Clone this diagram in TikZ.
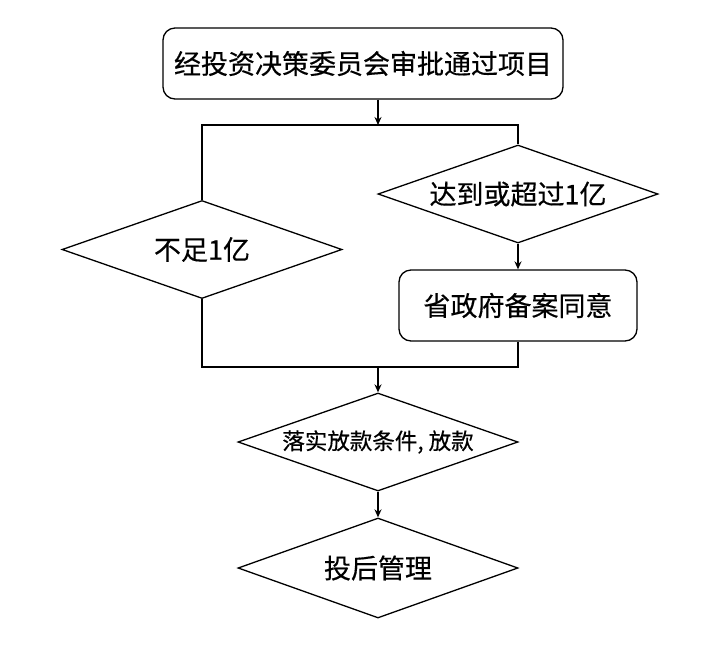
\documentclass[tikz,border=0pt]{standalone}
\usepackage{fontspec}
\setmainfont{Noto Sans CJK SC}[FakeBold=0.4]
\usetikzlibrary{shapes.geometric,arrows.meta}
\tikzset{
  rbox/.style={draw, line width=1.3pt, rounded corners=12pt, inner sep=0pt, font=\fontsize{27}{30}\selectfont},
  dia/.style={draw, diamond, line width=1.3pt, inner sep=0pt, minimum width=280pt, minimum height=98pt, aspect=2.86, font=\fontsize{27}{30}\selectfont},
  ln/.style={line width=1.3pt},
  arr/.style={line width=1.3pt, -{Stealth[length=8pt,width=7pt]}}
}
\begin{document}
\begin{tikzpicture}[x=1pt,y=-1pt]
\useasboundingbox (0,0) rectangle (705,649);
\node[rbox, minimum width=400pt, minimum height=71pt] (top) at (363,63.5) {经投资决策委员会审批通过项目};
\coordinate (j1) at (378,125);
\coordinate (jl) at (202,125);
\coordinate (jr) at (518,125);
\node[dia] (d1) at (202,249.5) {不足1亿};
\node[dia] (d2) at (518,194) {达到或超过1亿};
\node[rbox, minimum width=238pt, minimum height=71pt] (b2) at (518,305.5) {省政府备案同意};
\coordinate (k1) at (378,367);
\coordinate (kl) at (202,367);
\coordinate (kr) at (518,367);
\node[dia, font=\fontsize{22.5}{26}\selectfont] (d3) at (378,442) {落实放款条件, 放款};
\node[dia, minimum height=100pt] (d4) at (378,568) {投后管理};
\draw[arr] (top.south -| j1) -- (j1);
\draw[ln] (d1.north) -- (jl) -- (jr) -- (d2.north);
\draw[arr] (d2.south) -- (b2.north);
\draw[ln] (d1.south) -- (kl) -- (kr) -- (b2.south);
\draw[arr] (k1) -- (d3.north);
\draw[arr] (d3.south) -- (d4.north);
\end{tikzpicture}
\end{document}
